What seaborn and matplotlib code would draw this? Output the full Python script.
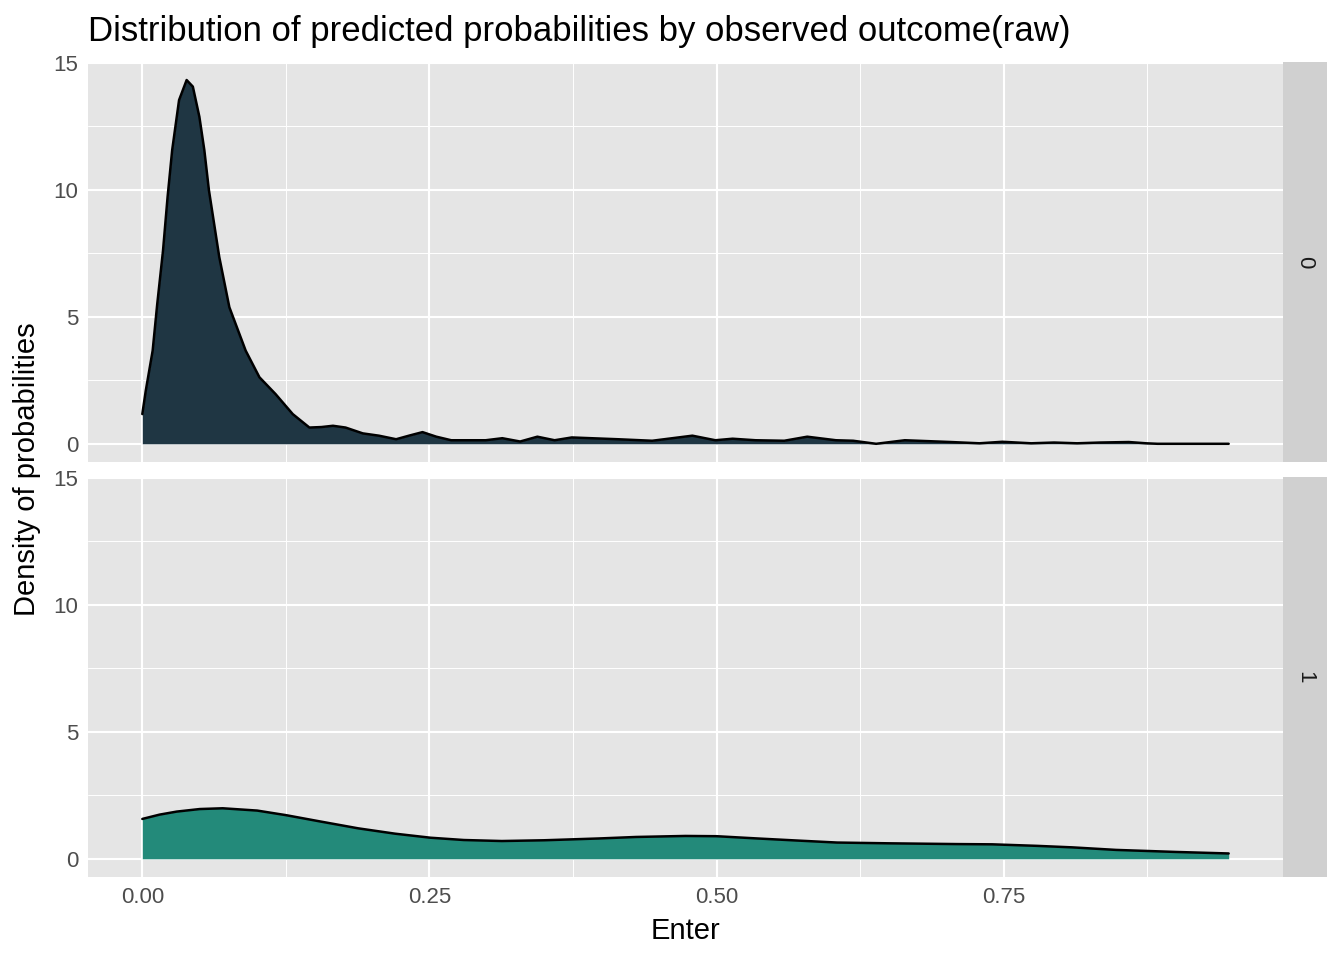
import numpy as np
import pandas as pd
import seaborn as sns
import matplotlib
matplotlib.use("Agg")
import matplotlib.pyplot as plt

# density curves (x = predicted probability, y = density)
x_out0 = [0.000, 0.003, 0.009, 0.013, 0.018, 0.022, 0.026, 0.032, 0.0386, 0.044, 0.0497,
          0.054, 0.058, 0.067, 0.0758, 0.090, 0.102, 0.116, 0.131, 0.1455, 0.156, 0.166, 0.177,
          0.192, 0.206, 0.221, 0.233, 0.244, 0.256, 0.269, 0.299, 0.3135, 0.329, 0.344, 0.359, 0.374,
          0.414, 0.444, 0.479, 0.499, 0.514, 0.534, 0.559, 0.579, 0.604, 0.619, 0.639,
          0.664, 0.704, 0.729, 0.749, 0.774, 0.794, 0.814, 0.834, 0.859, 0.874, 0.884, 0.946]
y_out0 = [1.17, 2.09, 3.67, 5.51, 7.60, 9.72, 11.57, 13.54, 14.33, 14.07, 12.88,
          11.57, 9.99, 7.36, 5.38, 3.67, 2.62, 1.96, 1.17, 0.64, 0.66, 0.71, 0.64,
          0.41, 0.32, 0.18, 0.33, 0.46, 0.28, 0.14, 0.14, 0.22, 0.09, 0.28, 0.14, 0.25,
          0.18, 0.12, 0.32, 0.14, 0.20, 0.14, 0.12, 0.28, 0.14, 0.12, 0.00,
          0.14, 0.07, 0.02, 0.08, 0.02, 0.05, 0.02, 0.05, 0.07, 0.02, 0.00, 0.00]

x_out1 = [0.000, 0.015, 0.030, 0.050, 0.070, 0.100, 0.125, 0.155, 0.188, 0.220, 0.251,
          0.280, 0.313, 0.350, 0.397, 0.430, 0.473, 0.500, 0.536, 0.570, 0.605, 0.650,
          0.709, 0.740, 0.779, 0.810, 0.848, 0.900, 0.946]
y_out1 = [1.57, 1.74, 1.86, 1.96, 1.99, 1.90, 1.72, 1.47, 1.20, 0.99, 0.83,
          0.74, 0.70, 0.73, 0.80, 0.86, 0.90, 0.89, 0.80, 0.72, 0.64, 0.61,
          0.58, 0.57, 0.51, 0.45, 0.35, 0.27, 0.21]

outcomes = ["0", "1"]
fills = ["#1F3643", "#238A7A"]
x_ticks = [0.00, 0.25, 0.50, 0.75]
x_tick_labels = ["0.00", "0.25", "0.50", "0.75"]
y_ticks = [0, 5, 10, 15]

df = pd.concat([
    pd.DataFrame({"Enter": x_out0, "density": y_out0, "outcome": "0"}),
    pd.DataFrame({"Enter": x_out1, "density": y_out1, "outcome": "1"}),
])

sns.set_style("white")
plt.rcParams["font.family"] = ["Liberation Sans", "DejaVu Sans"]

W, H = 1344, 960
fig = plt.figure(figsize=(W / 100, H / 100), dpi=100)

def box(l, t, r, b):
    return [l / W, 1 - b / H, (r - l) / W, (b - t) / H]

panels = [(62, 462), (477, 877)]
left, right = 88, 1283
strip_r = 1327

for i, (outcome, (top, bot)) in enumerate(zip(outcomes, panels)):
    ax = fig.add_axes(box(left, top, right, bot))
    ax.set_facecolor("#E5E5E5")
    for s in ax.spines.values():
        s.set_visible(False)
    sub = df[df["outcome"] == outcome]
    ax.fill_between(sub["Enter"], 0, sub["density"], color=fills[i], lw=0, zorder=2)
    sns.lineplot(data=sub, x="Enter", y="density", color="black", lw=1.8,
                 ax=ax, zorder=3, sort=False)
    ax.set_xlim(-0.0473, 0.9933)
    ax.set_ylim(-0.717, 15.04)
    ax.set_xticks(x_ticks)
    ax.set_xticks([0.125, 0.375, 0.625, 0.875], minor=True)
    ax.set_yticks(y_ticks)
    ax.set_yticks([2.5, 7.5, 12.5], minor=True)
    ax.grid(which="major", color="white", lw=1.5, zorder=0)
    ax.grid(which="minor", color="white", lw=0.7, zorder=0)
    ax.set_axisbelow(True)
    ax.tick_params(axis="both", which="major", length=4, width=1, color="#333333",
                   labelsize=16, labelcolor="#4D4D4D", pad=3)
    ax.tick_params(axis="both", which="minor", length=0)
    ax.set_xlabel("")
    ax.set_ylabel("")
    if i == 0:
        ax.tick_params(axis="x", which="major", length=0, labelbottom=False)
    else:
        ax.set_xticklabels(x_tick_labels)

    sax = fig.add_axes(box(right, top, strip_r, bot))
    sax.set_facecolor("#D0D0D0")
    sax.set_xticks([])
    sax.set_yticks([])
    for s in sax.spines.values():
        s.set_visible(False)
    sax.text(0.5, 0.5, outcome, rotation=-90, ha="center", va="center",
             fontsize=16, color="#1A1A1A", transform=sax.transAxes)

fig.text(88 / W, 1 - 31 / H, "Distribution of predicted probabilities by observed outcome(raw)",
         ha="left", va="center", fontsize=25, color="black")
fig.text((left + right) / 2 / W, 1 - 931 / H, "Enter", ha="center", va="center",
         fontsize=21, color="black")
fig.text(27 / W, 1 - 469 / H, "Density of probabilities", rotation=90,
         ha="center", va="center", fontsize=21, color="black")

fig.savefig("out.png", dpi=100, facecolor="white")
